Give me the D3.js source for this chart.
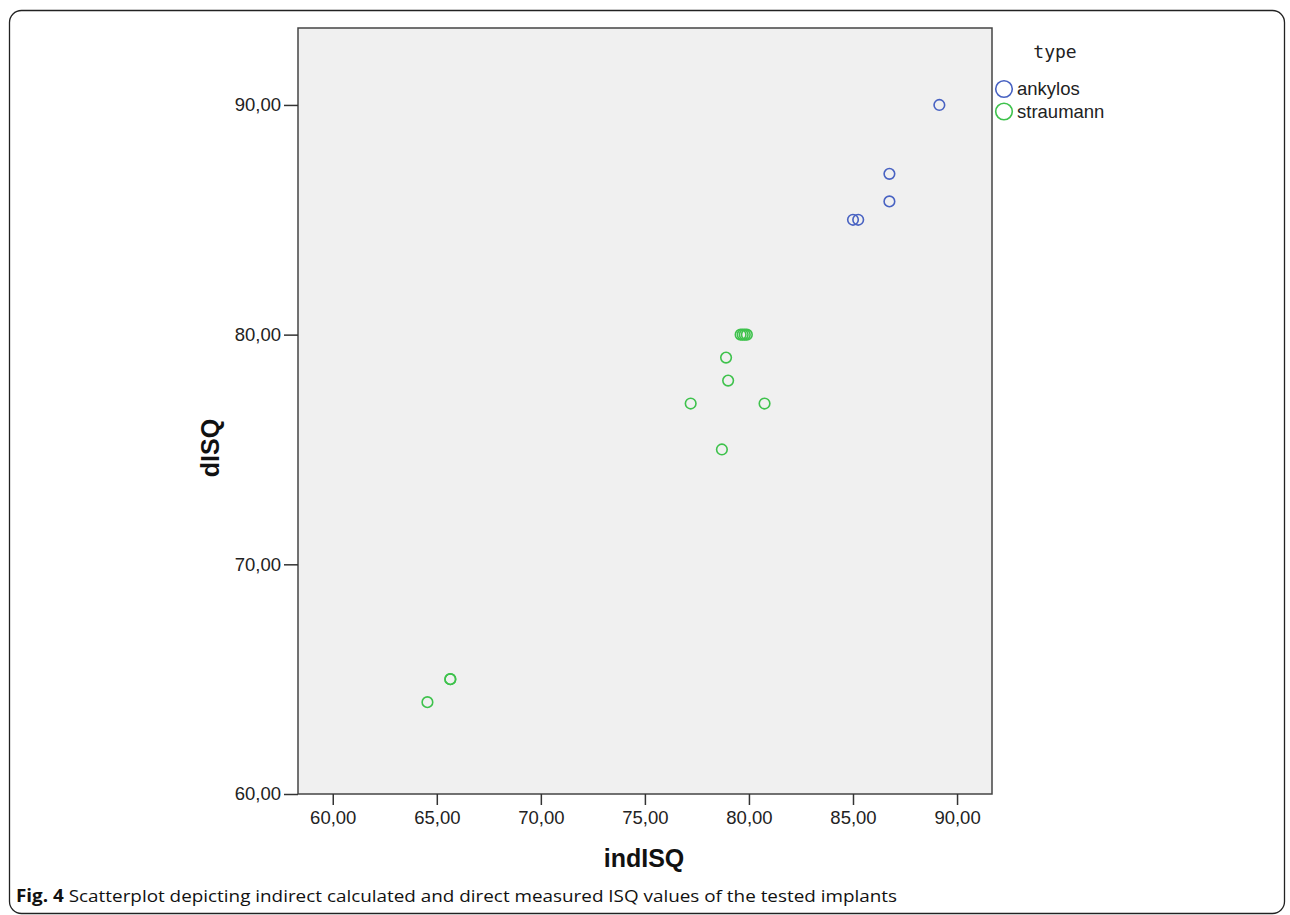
<!DOCTYPE html>
<html>
<head>
<meta charset="utf-8">
<script src="https://cdn.jsdelivr.net/npm/d3@7"></script>
<style>
  body { margin: 0; background: #fff; }
  svg { display: block; }
</style>
</head>
<body>
<svg></svg>
<script>
const width = 1290;
const height = 915;

// data
const types = ["ankylos", "straumann"];
const indISQ = [89.15, 86.75, 86.75, 85.0, 85.25,
                79.6, 79.7, 79.8, 79.9, 78.9, 79.0, 80.75, 77.2, 78.7, 65.65, 65.65, 64.55];
const dISQ   = [90, 87, 85.8, 85, 85,
                80, 80, 80, 80, 79, 78, 77, 77, 75, 65, 65, 64];
const pointType = ["ankylos", "ankylos", "ankylos", "ankylos", "ankylos",
                   "straumann", "straumann", "straumann", "straumann", "straumann", "straumann",
                   "straumann", "straumann", "straumann", "straumann", "straumann", "straumann"];
const xTicks = [60, 65, 70, 75, 80, 85, 90];
const yTicks = [60, 70, 80, 90];

const svg = d3.select("svg")
    .attr("width", width)
    .attr("height", height);

// outer figure frame
svg.append("rect")
    .attr("x", 9.5).attr("y", 10.5)
    .attr("width", 1275).attr("height", 903)
    .attr("rx", 12)
    .attr("fill", "none")
    .attr("stroke", "#222")
    .attr("stroke-width", 1.3);

const plot = { left: 298, right: 992, top: 28, bottom: 794 };

const x = d3.scaleLinear()
    .domain([58.33, 91.68])
    .range([plot.left, plot.right]);

const y = d3.scaleLinear()
    .domain([60, 93.35])
    .range([plot.bottom, plot.top]);

const color = d3.scaleOrdinal()
    .domain(types)
    .range(["#4862c2", "#3ec24c"]);

// plot background
svg.append("rect")
    .attr("x", plot.left).attr("y", plot.top)
    .attr("width", plot.right - plot.left)
    .attr("height", plot.bottom - plot.top)
    .attr("fill", "#f0f0f0")
    .attr("stroke", "#444")
    .attr("stroke-width", 1.5);

const fontAxis = "Liberation Sans, Arial, sans-serif";
const comma = d => d3.format(".2f")(d).replace(".", ",");

// x axis
const xAxis = svg.append("g")
    .attr("transform", "translate(0," + plot.bottom + ")")
    .call(d3.axisBottom(x)
        .tickValues(xTicks)
        .tickSize(11)
        .tickPadding(6)
        .tickFormat(comma));
xAxis.select(".domain").remove();

// y axis
const yAxis = svg.append("g")
    .attr("transform", "translate(" + plot.left + ",0)")
    .call(d3.axisLeft(y)
        .tickValues(yTicks)
        .tickSize(14)
        .tickPadding(3)
        .tickFormat(comma));
yAxis.select(".domain").remove();

svg.selectAll(".tick line").attr("stroke", "#333").attr("stroke-width", 1.5);
svg.selectAll(".tick text")
    .attr("fill", "#222")
    .style("font-family", fontAxis)
    .style("font-size", "18.5px");

// axis titles
svg.append("text")
    .attr("x", 644).attr("y", 867)
    .attr("text-anchor", "middle")
    .style("font-family", fontAxis)
    .style("font-weight", "bold")
    .style("font-size", "25px")
    .attr("fill", "#111")
    .text("indISQ");

svg.append("text")
    .attr("transform", "translate(219,448) rotate(-90)")
    .attr("text-anchor", "middle")
    .style("font-family", fontAxis)
    .style("font-weight", "bold")
    .style("font-size", "25px")
    .attr("fill", "#111")
    .text("dISQ");

// points
svg.append("g")
    .selectAll("circle")
    .data(indISQ.map((v, i) => ({ x: v, y: dISQ[i], type: pointType[i] })))
    .enter()
    .append("circle")
    .attr("cx", d => x(d.x))
    .attr("cy", d => y(d.y))
    .attr("r", 5.3)
    .attr("fill", "none")
    .attr("stroke", d => color(d.type))
    .attr("stroke-width", 1.6);

// legend
svg.append("text")
    .attr("x", 1055).attr("y", 58)
    .attr("text-anchor", "middle")
    .style("font-family", "DejaVu Sans Mono, monospace")
    .style("font-size", "18px")
    .attr("fill", "#222")
    .text("type");

const legend = svg.append("g")
    .selectAll("g")
    .data(types)
    .enter()
    .append("g")
    .attr("transform", (d, i) => "translate(1004," + (89 + i * 22.5) + ")");

legend.append("circle")
    .attr("r", 8.3)
    .attr("fill", "none")
    .attr("stroke", d => color(d))
    .attr("stroke-width", 1.6);

legend.append("text")
    .attr("x", 13).attr("y", 6)
    .style("font-family", fontAxis)
    .style("font-size", "18.5px")
    .attr("fill", "#222")
    .text(d => d);

// caption
const caption = svg.append("text")
    .attr("x", 16).attr("y", 902)
    .attr("textLength", 881)
    .attr("lengthAdjust", "spacingAndGlyphs")
    .style("font-family", "Open Sans, sans-serif")
    .style("font-size", "17px")
    .attr("fill", "#111");
caption.append("tspan").style("font-weight", "bold").text("Fig. 4");
caption.append("tspan").text(" Scatterplot depicting indirect calculated and direct measured ISQ values of the tested implants");
</script>
</body>
</html>
